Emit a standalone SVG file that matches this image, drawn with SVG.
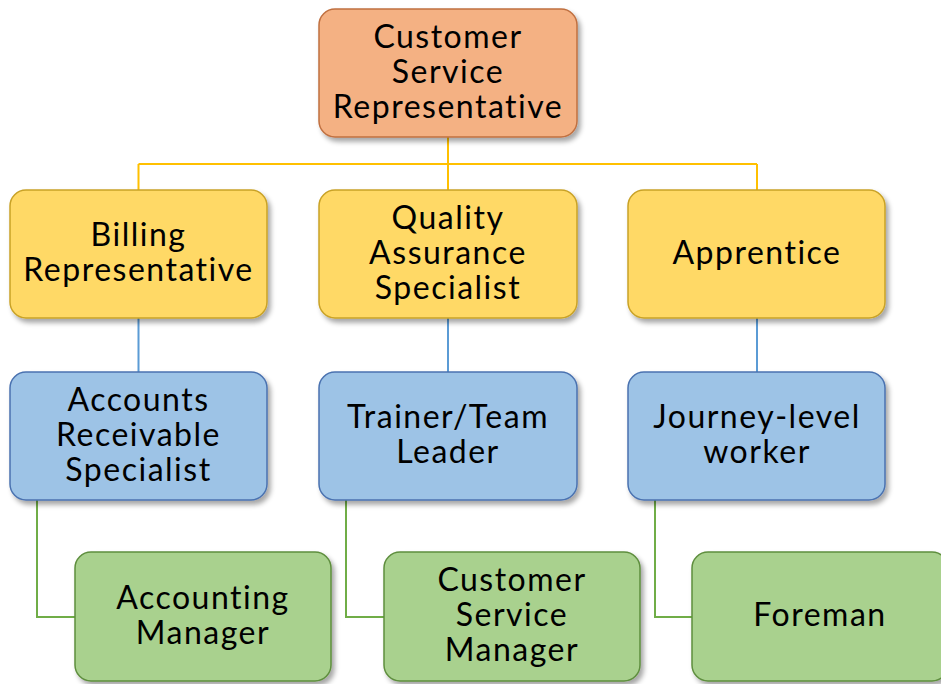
<svg xmlns="http://www.w3.org/2000/svg" width="941" height="684" viewBox="0 0 941 684">
  <defs>
    <filter id="shadow" x="-10%" y="-10%" width="125%" height="130%">
      <feDropShadow dx="3" dy="4" stdDeviation="2.5" flood-color="#000" flood-opacity="0.35"/>
    </filter>
  </defs>
  <style>
    .box { stroke-width: 1.5; filter: url(#shadow); }
    .l1 { fill: #F4B183; stroke: #C07040; }
    .l2 { fill: #FFD966; stroke: #C9A227; }
    .l3 { fill: #9DC3E6; stroke: #4A72B0; }
    .l4 { fill: #A9D18E; stroke: #5E8E3E; }
    text { font-family: Lato, "Noto Sans", "Liberation Sans", sans-serif; font-size: 32px; letter-spacing: 1.5px; fill: #000; text-anchor: middle; }
    .c { fill: none; stroke-width: 2; }
    .cy { stroke: #FFC000; }
    .cb { stroke: #5B9BD5; }
    .cg { stroke: #70AD47; }
  </style>
  <rect width="941" height="684" fill="#fff"/>

  <g id="connectors">
    <path class="c cy" d="M448 137 V164 M138.5 164 H757 M138.5 164 V190 M448 164 V190 M757 164 V190"/>
    <path class="c cb" d="M138.5 318 V372 M448 318 V372 M757 318 V372"/>
    <path class="c cg" d="M37 500 V617 H75 M346 500 V617 H384 M655 500 V617 H692"/>
  </g>

  <g id="customer-service-representative">
    <rect class="box l1" x="319" y="9" width="258" height="128" rx="16"/>
    <text x="448" y="48">Customer</text>
    <text x="448" y="83">Service</text>
    <text x="448" y="118">Representative</text>
  </g>

  <g id="billing-representative">
    <rect class="box l2" x="10" y="190" width="257" height="128" rx="16"/>
    <text x="138.5" y="246">Billing</text>
    <text x="138.5" y="281">Representative</text>
  </g>
  <g id="quality-assurance-specialist">
    <rect class="box l2" x="319" y="190" width="258" height="128" rx="16"/>
    <text x="448" y="229">Quality</text>
    <text x="448" y="264">Assurance</text>
    <text x="448" y="299">Specialist</text>
  </g>
  <g id="apprentice">
    <rect class="box l2" x="628" y="190" width="257" height="128" rx="16"/>
    <text x="757" y="264">Apprentice</text>
  </g>

  <g id="accounts-receivable-specialist">
    <rect class="box l3" x="10" y="372" width="257" height="128" rx="16"/>
    <text x="138.5" y="411">Accounts</text>
    <text x="138.5" y="446">Receivable</text>
    <text x="138.5" y="481">Specialist</text>
  </g>
  <g id="trainer-team-leader">
    <rect class="box l3" x="319" y="372" width="258" height="128" rx="16"/>
    <text x="448" y="428">Trainer/Team</text>
    <text x="448" y="463">Leader</text>
  </g>
  <g id="journey-level-worker">
    <rect class="box l3" x="628" y="372" width="257" height="128" rx="16"/>
    <text x="757" y="428">Journey-level</text>
    <text x="757" y="463">worker</text>
  </g>

  <g id="accounting-manager">
    <rect class="box l4" x="75" y="552" width="256" height="129" rx="16"/>
    <text x="203" y="609">Accounting</text>
    <text x="203" y="644">Manager</text>
  </g>
  <g id="customer-service-manager">
    <rect class="box l4" x="384" y="552" width="256" height="129" rx="16"/>
    <text x="512" y="591">Customer</text>
    <text x="512" y="626">Service</text>
    <text x="512" y="661">Manager</text>
  </g>
  <g id="foreman">
    <rect class="box l4" x="692" y="552" width="256" height="129" rx="16"/>
    <text x="820" y="626">Foreman</text>
  </g>
</svg>
